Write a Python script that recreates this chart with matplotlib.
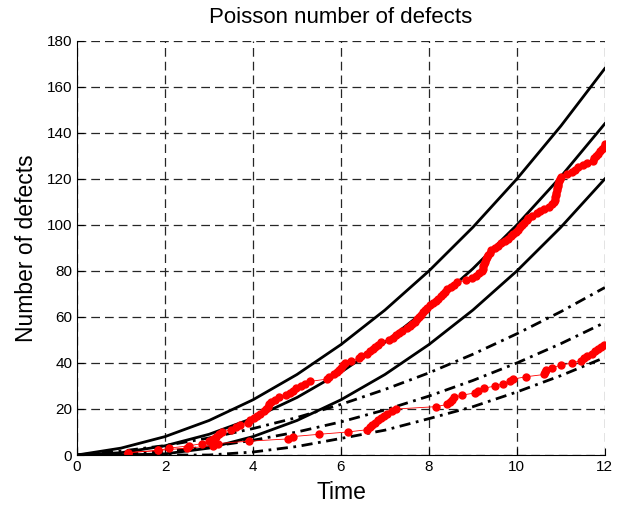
import matplotlib.pyplot as plt
import numpy as np

plt.rcParams['font.family'] = ['Liberation Sans', 'DejaVu Sans']

# tiempos en los que se evaluan las bandas
t = [0, 1, 2, 3, 4, 5, 6, 7, 8, 9, 10, 11, 12]

# proceso 1 (lineas solidas): media y bandas
media1 = [0, 1, 4, 9, 16, 25, 36, 49, 64, 81, 100, 121, 144]
sup1 = [0, 3, 8, 15, 24, 35, 48, 63, 80, 99, 120, 143, 168]
inf1 = [0, 0, 0.5, 3, 8, 15, 24, 35, 48, 63, 80, 99, 120]

# proceso 2 (lineas punto-raya): media y bandas
media2 = [0, 0.4, 1.6, 3.6, 6.4, 10, 14.4, 19.6, 25.6, 32.4, 40, 48.4, 57.6]
sup2 = [0, 1.7, 4.1, 7.4, 11.5, 16.3, 22, 28.5, 35.7, 43.8, 52.7, 62.3, 72.8]
inf2 = [0, 0, 0, 0, 1.3, 3.7, 7.2, 10.8, 15.8, 21, 27.4, 34.5, 42.4]

# tiempos de los defectos observados
defectos1 = [1.15, 1.85, 2.1, 2.55, 2.85, 3.0, 3.08, 3.15, 3.22, 3.3,
             3.5, 3.62, 3.7, 3.88, 3.93, 4.02, 4.08, 4.15, 4.25, 4.3,
             4.34, 4.37, 4.4, 4.5, 4.6, 4.75, 4.85, 4.9, 4.98, 5.1,
             5.18, 5.3, 5.68, 5.72, 5.85, 5.9, 5.95, 6.0, 6.05, 6.1,
             6.22, 6.4, 6.45, 6.6, 6.65, 6.72, 6.78, 6.85, 6.92, 7.1,
             7.18, 7.25, 7.32, 7.38, 7.5, 7.57, 7.62, 7.68, 7.73, 7.78,
             7.82, 7.86, 7.9, 7.95, 8.02, 8.1, 8.15, 8.2, 8.27, 8.32,
             8.36, 8.42, 8.5, 8.58, 8.64, 8.85, 8.98, 9.06, 9.15, 9.2,
             9.22, 9.24, 9.26, 9.28, 9.3, 9.32, 9.35, 9.38, 9.42, 9.5,
             9.58, 9.65, 9.72, 9.8, 9.86, 9.92, 9.98, 10.03, 10.07, 10.12,
             10.17, 10.22, 10.26, 10.35, 10.45, 10.52, 10.62, 10.72, 10.8, 10.84,
             10.86, 10.87, 10.88, 10.9, 10.91, 10.92, 10.93, 10.94, 10.96, 10.98,
             11.0, 11.15, 11.25, 11.32, 11.38, 11.5, 11.6, 11.72, 11.76, 11.8,
             11.85, 11.89, 11.93, 11.97, 12.0]
defectos2 = [1.15, 1.85, 2.5, 3.1, 3.2, 3.9, 4.8, 4.9, 5.5, 6.15,
             6.6, 6.65, 6.7, 6.78, 6.85, 6.9, 6.97, 7.05, 7.15, 7.25,
             8.15, 8.42, 8.47, 8.52, 8.57, 8.75, 9.05, 9.12, 9.25, 9.5,
             9.68, 9.85, 9.92, 10.2, 10.62, 10.65, 10.67, 10.8, 11.0, 11.25,
             11.45, 11.52, 11.6, 11.7, 11.78, 11.84, 11.92, 11.97]

fig = plt.figure(figsize=(6.32, 5.05), dpi=100)
ax = fig.add_axes([0.122, 0.099, 0.835, 0.82])

for serie in [sup1, media1, inf1]:
    ax.plot(t, serie, 'k-', linewidth=2)
for serie in [sup2, media2, inf2]:
    ax.plot(t, serie, 'k', linestyle=(0, (4, 2, 1, 2)), linewidth=2)

for defectos in [defectos1, defectos2]:
    conteo = np.arange(1, len(defectos) + 1)
    ax.plot(defectos, conteo, 'r.-', linewidth=0.6, markersize=10)

ax.set_xlim(0, 12)
ax.set_ylim(0, 180)
ax.set_xticks(range(0, 13, 2))
ax.set_yticks(range(0, 181, 20))
ax.grid(True, linestyle=(0, (7, 4)), color='0.15', linewidth=0.9)
ax.spines['top'].set_visible(False)
ax.spines['right'].set_visible(False)
ax.tick_params(direction='in', length=5, labelsize=11)
ax.set_title('Poisson number of defects', fontsize=16, pad=13)
ax.set_xlabel('Time', fontsize=16.5, labelpad=5)
ax.set_ylabel('Number of defects', fontsize=16.5, labelpad=6)

fig.savefig('out.png', dpi=100)
